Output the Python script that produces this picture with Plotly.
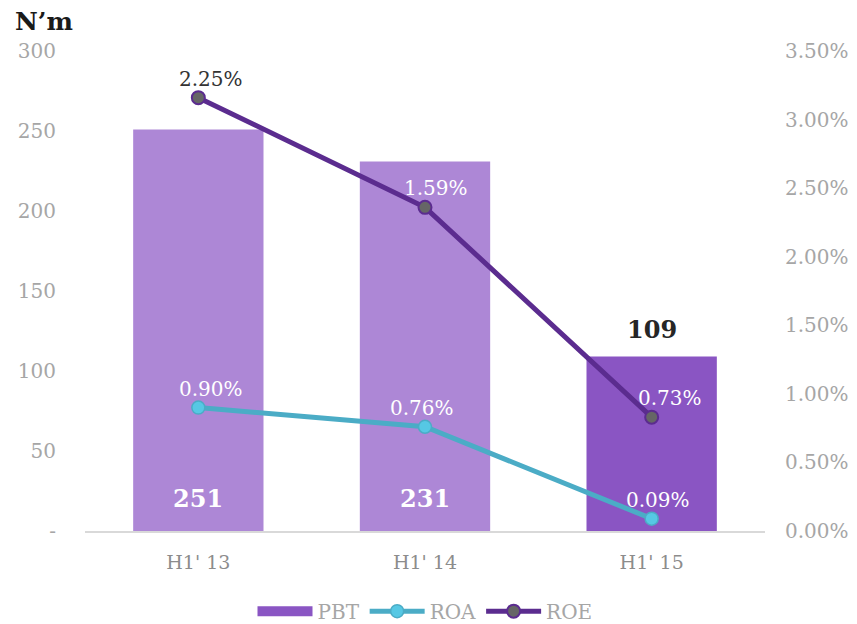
import plotly.graph_objects as go

categories = ["H1' 13", "H1' 14", "H1' 15"]
pbt = [251, 231, 109]
roa = [0.90, 0.76, 0.09]
roa_labels = ["0.90%", "0.76%", "0.09%"]
roe_plot = [3.16, 2.36, 0.83]
roe_labels = ["2.25%", "1.59%", "0.73%"]
left_ticks = [0, 50, 100, 150, 200, 250, 300]
left_ticktext = ["-", "50", "100", "150", "200", "250", "300"]
right_ticks = [0, 0.5, 1.0, 1.5, 2.0, 2.5, 3.0, 3.5]

FONT = "DejaVu Serif"
bar_colors = ["#AD87D6", "#AD87D6", "#8A55C3"]
roa_dx = [13, -3, 6]
roe_dx = [13, 11, 18]

fig = go.Figure()
fig.add_trace(go.Bar(
    x=categories, y=pbt, name="PBT", marker=dict(color=bar_colors, line=dict(width=0)),
    width=0.575, yaxis="y", showlegend=False, hoverinfo="x+y",
))
# legend swatch for PBT (wide rectangle like the reference)
fig.add_trace(go.Scatter(
    x=[None], y=[None], name="PBT", mode="lines",
    line=dict(color="#8A55C3", width=15), showlegend=True,
))
fig.add_trace(go.Scatter(
    x=categories, y=roa, name="ROA", mode="lines+markers", yaxis="y2",
    line=dict(color="#4BACC6", width=5),
    marker=dict(size=13, color="#56C8E4", line=dict(color="#4BACC6", width=1.5)),
))
fig.add_trace(go.Scatter(
    x=categories, y=roe_plot, name="ROE", mode="lines+markers", yaxis="y2",
    line=dict(color="#5B2C8F", width=5),
    marker=dict(size=13, color="#666666", line=dict(color="#5B2C8F", width=2)),
))

annotations = []
for i, (c, v) in enumerate(zip(categories, pbt)):
    if i < 2:
        annotations.append(dict(x=c, y=0, xref="x", yref="y", yshift=33, text=f"<b>{v}</b>",
                                showarrow=False, font=dict(family=FONT, size=24, color="white")))
    else:
        annotations.append(dict(x=c, y=v, xref="x", yref="y", yshift=27, text=f"<b>{v}</b>",
                                showarrow=False, font=dict(family=FONT, size=24, color="#262626")))
for i, (c, v, t) in enumerate(zip(categories, roa, roa_labels)):
    annotations.append(dict(x=c, y=v, xref="x", yref="y2", yshift=19, xshift=roa_dx[i], text=t,
                            showarrow=False, font=dict(family=FONT, size=20, color="white")))
for i, (c, v, t) in enumerate(zip(categories, roe_plot, roe_labels)):
    annotations.append(dict(x=c, y=v, xref="x", yref="y2", yshift=19, xshift=roe_dx[i], text=t,
                            showarrow=False,
                            font=dict(family=FONT, size=20, color="#333333" if i == 0 else "white")))
annotations.append(dict(x=0, y=1, xref="paper", yref="paper", xanchor="left", yanchor="middle",
                        xshift=-72, yshift=30, text="<b>N\u2019m</b>", showarrow=False,
                        font=dict(family=FONT, size=25, color="#1A1A1A")))

fig.update_layout(
    width=849, height=616,
    margin=dict(l=77, r=92, t=43, b=93, autoexpand=False),
    paper_bgcolor="white", plot_bgcolor="white",
    font=dict(family=FONT, size=20, color="#A6A6A6"),
    showlegend=True,
    legend=dict(orientation="h", x=0.5, xanchor="center", y=-0.167, yanchor="middle",
                font=dict(family=FONT, size=20, color="#A6A6A6"), itemwidth=55,
                traceorder="normal"),
    xaxis=dict(showgrid=False, showline=True, linecolor="#D9D9D9", linewidth=2,
               ticks="outside", ticklen=13, tickcolor="rgba(0,0,0,0)",
               tickfont=dict(family=FONT, size=19, color="#8C8C8C")),
    yaxis=dict(range=[0, 300], tickvals=left_ticks, ticktext=left_ticktext, showgrid=False,
               zeroline=False, showline=False, ticks="outside", ticklen=24,
               tickcolor="rgba(0,0,0,0)",
               tickfont=dict(family=FONT, size=20, color="#A6A6A6")),
    yaxis2=dict(range=[0, 3.5], tickvals=right_ticks, ticktext=[f"{t:.2f}%" for t in right_ticks],
                overlaying="y", side="right", showgrid=False, zeroline=False, showline=False,
                ticks="outside", ticklen=15, tickcolor="rgba(0,0,0,0)",
                tickfont=dict(family=FONT, size=20, color="#A6A6A6")),
    annotations=annotations,
)

fig.write_html("out.html")
